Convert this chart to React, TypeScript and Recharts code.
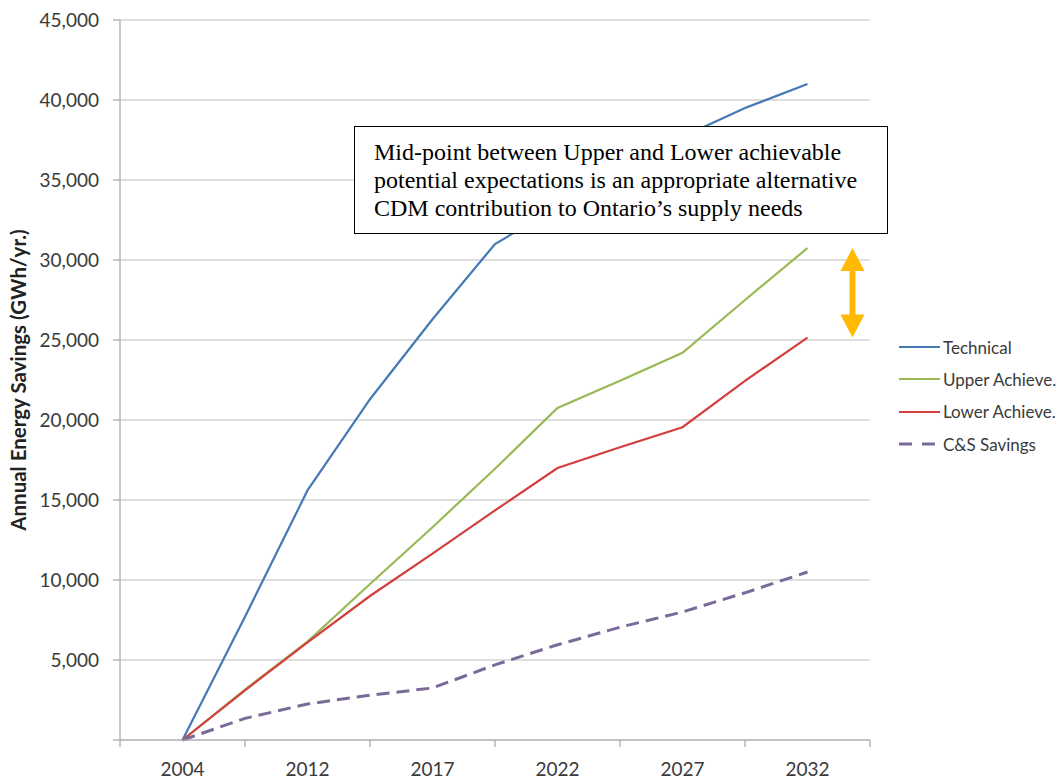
import React from 'react';
import { LineChart, Line, XAxis, YAxis, CartesianGrid, Legend, ReferenceLine } from 'recharts';

// ---- data (read from the reference) ----
const tickLabels = ['2004', '2012', '2017', '2022', '2027', '2032'];
// sample positions in category units (0 = 2004 ... 5 = 2032), half-category samples
const steps = [0, 0.5, 1, 1.5, 2, 2.5, 3, 3.5, 4, 4.5, 5];
const technical = [0, 7700, 15600, 21300, 26300, 31000, 33300, 35500, 37700, 39500, 41000];
const upperAchieve = [0, 3150, 6150, 9750, 13300, 16950, 20750, 22450, 24200, 27500, 30750];
const lowerAchieve = [0, 3100, 6100, 9000, 11650, 14350, 17000, 18300, 19550, 22450, 25150];
const csSavings = [0, 1350, 2250, 2800, 3250, 4700, 5950, 7050, 8000, 9200, 10500];
const yTicks = [0, 5000, 10000, 15000, 20000, 25000, 30000, 35000, 40000, 45000];
const xTicks = [-0.5, 0, 0.5, 1, 1.5, 2, 2.5, 3, 3.5, 4, 4.5, 5, 5.5];
const seriesOrder = ['technical', 'upper', 'lower', 'cs'];
const arrowX = 5.36;
const noteLines = [
  'Mid-point between Upper and Lower achievable',
  'potential expectations is an appropriate alternative',
  'CDM contribution to Ontario\u2019s supply needs',
];

const data = steps.map((s, i) => ({
  x: s,
  technical: technical[i],
  upper: upperAchieve[i],
  lower: lowerAchieve[i],
  cs: csSavings[i],
}));

const seriesStyle: Record<string, { color: string; dash?: string; width: number }> = {
  technical: { color: '#4479B6', width: 2.2 },
  upper: { color: '#98B954', width: 2.2 },
  lower: { color: '#D23F3D', width: 2.2 },
  cs: { color: '#7A6A98', dash: '13 7', width: 3 },
};

const AXIS = '#A6A6A6';
const TEXT = '#3A3A3A';

const XTick = (props: any) => {
  const { x, y, payload } = props;
  const v = payload.value;
  if (Number.isInteger(v)) {
    return (
      <text x={x} y={y + 36} textAnchor="middle" fill={TEXT} fontSize={19} fontFamily="Lato">
        {tickLabels[v]}
      </text>
    );
  }
  return <line x1={x} x2={x} y1={y} y2={y + 7} stroke={AXIS} strokeWidth={1.2} />;
};

const DoubleArrow = (props: any) => {
  const { x1, y1, x2, y2 } = props;
  const cx = (x1 + x2) / 2;
  const top = Math.min(y1, y2);
  const bot = Math.max(y1, y2);
  const hh = 23;
  const hw = 12;
  const sw = 3;
  const d = `M${cx},${top} L${cx + hw},${top + hh} L${cx + sw},${top + hh} L${cx + sw},${bot - hh} L${cx + hw},${bot - hh} L${cx},${bot} L${cx - hw},${bot - hh} L${cx - sw},${bot - hh} L${cx - sw},${top + hh} L${cx - hw},${top + hh} Z`;
  return <path d={d} fill="#FFB900" stroke="none" />;
};

const YTitle = (props: any) => {
  const vb = props.viewBox || { x: 0, y: 20, width: 120, height: 720 };
  const cx = vb.x + 18;
  const cy = vb.y + vb.height / 2;
  return (
    <text
      x={cx}
      y={cy}
      transform={`rotate(-90, ${cx}, ${cy})`}
      textAnchor="middle"
      dominantBaseline="central"
      fontFamily="Lato"
      fontWeight="bold"
      fontSize={20.5}
      fill="#222"
    >
      Annual Energy Savings (GWh/yr.)
    </text>
  );
};

const LegendContent = (props: any) => {
  const items = [...(props.payload || [])].sort(
    (a: any, b: any) => seriesOrder.indexOf(a.dataKey) - seriesOrder.indexOf(b.dataKey)
  );
  return (
    <div style={{ fontFamily: 'Lato', fontSize: 17, color: TEXT }}>
      {items.map((p: any) => {
        const st = seriesStyle[p.dataKey] || { color: p.color, width: 2 };
        return (
          <div key={p.value} style={{ display: 'flex', alignItems: 'center', height: 32.3 }}>
            <svg width={44} height={10} style={{ display: 'block' }}>
              <line
                x1={0}
                x2={41}
                y1={5}
                y2={5}
                stroke={st.color}
                strokeWidth={st.width}
                strokeDasharray={st.dash ? '13 10' : undefined}
              />
            </svg>
            <span>{p.value}</span>
          </div>
        );
      })}
    </div>
  );
};

export default function App() {
  return (
    <div style={{ position: 'absolute', left: 0, top: 0, width: 1063, height: 780, background: '#fff' }}>
      <LineChart width={1063} height={780} data={data} margin={{ top: 20, right: 193, bottom: 0, left: 0 }}>
        <CartesianGrid horizontal vertical={false} stroke="#D4D4D4" strokeWidth={1.5} />
        <XAxis
          dataKey="x"
          type="number"
          domain={[-0.5, 5.5]}
          ticks={xTicks}
          interval={0}
          height={40}
          axisLine={{ stroke: AXIS, strokeWidth: 1.2 }}
          tickLine={false}
          tickSize={0}
          tickMargin={0}
          tick={<XTick />}
          allowDataOverflow
        />
        <YAxis
          type="number"
          domain={[0, 45000]}
          ticks={yTicks}
          interval={0}
          width={120}
          axisLine={{ stroke: AXIS, strokeWidth: 1.2 }}
          tickLine={{ stroke: AXIS, strokeWidth: 1.2 }}
          tickSize={7}
          tickMargin={14}
          tick={{ fill: TEXT, fontSize: 19, fontFamily: 'Lato' }}
          tickFormatter={(v: number) => (v === 0 ? '' : v.toLocaleString('en-US'))}
          label={<YTitle />}
        />
        <Line dataKey="technical" name="Technical" stroke={seriesStyle.technical.color} strokeWidth={seriesStyle.technical.width} dot={false} isAnimationActive={false} />
        <Line dataKey="upper" name="Upper Achieve." stroke={seriesStyle.upper.color} strokeWidth={seriesStyle.upper.width} dot={false} isAnimationActive={false} />
        <Line dataKey="lower" name="Lower Achieve." stroke={seriesStyle.lower.color} strokeWidth={seriesStyle.lower.width} dot={false} isAnimationActive={false} />
        <Line dataKey="cs" name="C&S Savings" stroke={seriesStyle.cs.color} strokeWidth={seriesStyle.cs.width} strokeDasharray={seriesStyle.cs.dash} dot={false} isAnimationActive={false} />
        <ReferenceLine
          segment={[
            { x: arrowX, y: upperAchieve[upperAchieve.length - 1] },
            { x: arrowX, y: lowerAchieve[lowerAchieve.length - 1] },
          ]}
          shape={<DoubleArrow />}
          ifOverflow="visible"
        />
        <Legend
          layout="vertical"
          align="center"
          verticalAlign="middle"
          content={<LegendContent />}
          wrapperStyle={{ left: 899, top: 331, width: 164, height: 'auto' }}
        />
      </LineChart>
      <div
        style={{
          position: 'absolute',
          left: 354,
          top: 126,
          width: 534,
          height: 108,
          boxSizing: 'border-box',
          border: '1.5px solid #000',
          background: '#fff',
          fontFamily: '"Liberation Serif", "Times New Roman", serif',
          fontSize: 24,
          lineHeight: '28px',
          padding: '11px 0 0 19px',
          color: '#000',
          whiteSpace: 'nowrap',
        }}
      >
        {noteLines.map((l) => (
          <div key={l}>{l}</div>
        ))}
      </div>
    </div>
  );
}
